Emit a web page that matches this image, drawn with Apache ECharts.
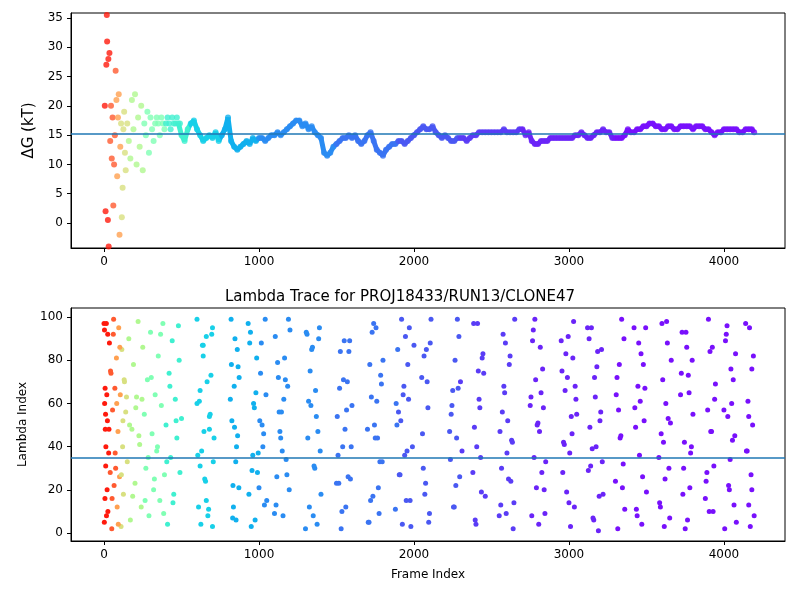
<!DOCTYPE html>
<html><head><meta charset="utf-8">
<script src="https://cdn.jsdelivr.net/npm/echarts@6/dist/echarts.min.js"></script>
<style>body{margin:0}#c{width:800px;height:600px}</style></head>
<body><div id="c"></div>
<script>
// Top panel: free energy estimate per frame
const dgFrames = [5,10,15,18,20,25,28,30,35,40,45,50,55,60,65,70,75,80,85,90,95,100,105,110,115,120,125,130,135,140,150,160,170,180,190,200,210,220,230,240,250,260,270,280,290,300,310,320,330,340,350,360,370,380,390,400,410,420,430,440,450,460,470,480,490,
500,520,540,560,580,600,620,640,660,680,700,720,740,760,780,800,820,840,860,880,900,920,940,960,980,1000,1020,1040,1060,1080,1100,1120,1140,1160,1180,1200,1220,1240,1260,1280,1300,1320,1340,1360,1380,1400,1420,1440,1460,1480,1500,1520,1540,1560,1580,1600,1620,1640,1660,1680,1700,1720,1740,1760,1780,1800,1820,1840,1860,1880,1900,1920,1940,1960,1980,2000,2020,2040,2060,2080,2100,2120,2140,2160,2180,2200,2220,2240,2260,2280,2300,2320,2340,2360,2380,2400,2420,2440,2460,2480,2500,2520,2540,2560,2580,2600,2620,2640,2660,2680,2700,2720,2740,2760,2780,2800,2820,2840,2860,2880,2900,2920,2940,2960,2980,3000,3020,3040,3060,3080,3100,3120,3140,3160,3180,3200,3220,3240,3260,3280,3300,3320,3340,3360,3380,3400,3420,3440,3460,3480,3500,3520,3540,3560,3580,3600,3620,3640,3660,3680,3700,3720,3740,3760,3780,3800,3820,3840,3860,3880,3900,3920,3940,3960,3980,4000,4020,4040,4060,4080,4100,4120,4140,4160,4180,4195];
const dgValues = [20,2,27,35.5,31,0.5,28,-4,29,14,20,11,18,3,10,15,26,21,8,18,22,-2,13,17,1,6,16,19,12,9,17,14,11,21,16,22,10,18,13,20,9,17,15,19,12,18,16,14,17,18,17,15,18,17,16,17,18,17,16,18,17,17,18,17,17,
15,14,16,17,17.5,16,15,14,14.5,15,14.5,15.5,14,15,16,18,14,13,12.5,13,13.5,14,13.5,14.5,14,14.5,14.5,14,14.5,15,15,15.5,15,15.5,16,16.5,17,17.5,17.5,16.5,17,16,16.5,15.5,15,14.5,12,11.5,12,13,13.5,14,14.5,14.5,15,14.5,15,14,13.5,14,15,15.5,14,12.5,12,11.5,12.5,13,13.5,13.5,14,14,13.5,14,14.5,15,15.5,16,16.5,16,16,16.5,15.5,15,14.5,15,14.5,14,14,14.5,14.5,14.5,14,14.5,15,15,15.5,15.5,15.5,15.5,15.5,15.5,15.5,15.5,16,15.5,15.5,15.5,15.5,16,16,15,15.5,14,13.5,13.5,14,14,14,14.5,14.5,14.5,14.5,14.5,14.5,14.5,14.5,15,15,15.5,15,14.5,14.5,15,15.5,15.5,16,15.5,15.5,14.5,14.5,14.5,14.5,15,16,15.5,15.5,16,16,16.5,16.5,17,17,16.5,16.5,16,16,16.5,16.5,16,16,16.5,16.5,16.5,16.5,16,16.5,16.5,16.5,16,16,15.5,15,15.5,15.5,16,16,16,16,16,15.5,15.5,16,16,16,15.5];
const dgRef = 15.2;
const dgTicks = [0,5,10,15,20,25,30,35];
// Bottom panel: lambda index per frame
const lamFrames = [0,2,4,6,8,10,12,15,18,20,22,25,30,35,40,45,50,55,60,65,70,75,80,85,90,95,100,105,110,115,120,125,130,140,150,160,170,180,190,200,210,220,230,240,250,260,270,280,290,300,310,320,330,340,350,360,370,380,390,400,410,420,430,440,450,460,470,480,490,500,
600,610,620,630,640,650,660,670,680,690,700,710,600,620,640,660,680,700,820,830,840,850,860,870,825,835,845,855,865,930,950,970,990,1010,1030,1050,940,960,980,1000,1020,1040,1100,1120,1140,1160,1180,1200,1110,1130,1150,1170,1190,1300,1320,1340,1360,1380,1400,1310,1330,1350,1370,1390,1500,1520,1540,1560,1580,1600,1510,1530,1550,1570,1590,1700,1720,1740,1760,1780,1800,1710,1730,1750,1770,1790,1880,1900,1920,1940,1960,1980,2000,1890,1910,1930,1950,1970,1990,2050,2070,2090,2110,2060,2080,2100,2230,2250,2270,2290,2310,2240,2260,2280,2300,2380,2400,2420,2440,2460,2390,2410,2430,2450,2550,2570,2590,2610,2630,2650,2560,2580,2600,2620,2640,2750,2770,2790,2810,2830,2850,2760,2780,2800,2820,2840,2950,2970,2990,3010,3030,3050,2960,2980,3000,3020,3040,3120,3140,3160,3180,3200,3220,3130,3150,3170,3190,3210,3300,3320,3340,3360,3310,3330,3350,3420,3440,3460,3480,3500,3430,3450,3470,3490,3580,3600,3620,3640,3660,3590,3610,3630,3650,3720,3740,3760,3780,3800,3730,3750,3770,3790,3880,3900,3920,3940,3890,3910,3930,4000,4020,4040,4060,4080,4010,4030,4050,4070,4140,4160,4180,4150,4170,4190,4160,4180];
const lamValues = [97,5,60,16,48,55,40,97,64,20,52,10,37,88,28,74,2,57,92,22,67,30,81,12,47,95,26,64,3,85,40,18,71,56,33,90,6,48,78,23,63,98,41,12,86,55,30,71,8,93,46,20,64,38,82,15,59,97,27,50,4,74,35,89,18,62,44,96,28,53,
99,12,66,38,82,25,91,8,54,73,3,44,60,31,87,15,48,95,99,7,68,33,85,21,52,12,90,40,77,97,3,58,28,74,46,15,88,36,65,21,50,99,9,79,44,62,27,94,13,56,38,71,99,2,61,85,30,47,18,92,75,8,54,95,23,67,40,12,84,59,36,2,89,70,25,48,15,97,61,33,80,5,93,44,21,69,11,56,99,36,78,3,87,50,27,64,15,95,40,72,18,58,99,30,85,9,47,66,22,91,38,55,12,99,70,28,4,62,81,17,49,97,35,74,8,56,88,25,43,99,13,68,37,82,2,59,94,21,47,76,33,8,99,51,65,20,89,41,72,3,98,55,28,83,14,46,68,95,31,6,77,52,18,90,39,63,1,85,24,57,99,11,72,44,32,95,8,61,78,19,49,88,4,67,35,97,25,53,80,12,42,98,7,64,30,86,21,55,93,2,73,40,16,99,47,62,28,84,10,57,96,34,71,5,89,22,60,45,97,13,76,38,3,82,54,20,94,67,31,8,92,48,75,16,99,37,60,4,86,27,52,70];
const lamFrames2 = [3,7,11,16,24,32,42,52,62,72,82,92,102,112,122,132,145,165,185,205,225,245,265,285,305,325,345,365,385,405,425,445,465,485,605,615,625,635,645,655,665,675,685,695,705,815,822,832,842,852,862,872,935,945,955,965,975,985,995,1005,1015,1025,1035,1045,1105,1115,1125,1135,1145,1155,1165,1175,1185,1195,1305,1315,1325,1335,1345,1355,1365,1375,1385,1395,1505,1515,1525,1535,1545,1555,1565,1575,1585,1595,1705,1715,1725,1735,1745,1755,1765,1775,1785,1795,1885,1895,1905,1915,1925,1935,1945,1955,1965,1975,2055,2065,2075,2085,2095,2105,2235,2245,2255,2265,2275,2285,2295,2385,2395,2405,2415,2425,2435,2445,2555,2565,2575,2585,2595,2605,2615,2625,2635,2645,2755,2765,2775,2785,2795,2805,2815,2825,2835,2845,2955,2965,2975,2985,2995,3005,3015,3025,3035,3045,3125,3135,3145,3155,3165,3175,3185,3195,3205,3215,3305,3315,3325,3335,3345,3355,3425,3435,3445,3455,3465,3475,3485,3495,3585,3595,3605,3615,3625,3635,3645,3655,3725,3735,3745,3755,3765,3775,3785,3795,3885,3895,3905,3915,3925,3935,3945,4005,4015,4025,4035,4045,4055,4065,4075,4145,4155,4165,4175,4185,4195];
const lamValues2 = [63,50,17,58,45,62,15,35,72,25,40,92,9,33,68,14,52,80,36,61,4,87,47,24,70,11,55,92,33,62,78,22,49,6,45,72,18,93,29,60,6,81,37,52,88,40,13,64,91,26,72,47,56,8,81,34,68,20,93,44,12,59,86,31,66,4,90,38,54,23,84,10,71,48,57,26,89,40,5,78,63,17,50,95,44,9,73,33,60,85,27,52,4,68,91,38,62,15,46,82,23,70,5,88,34,59,12,80,44,67,26,97,6,40,75,58,19,83,47,30,92,65,9,52,78,24,42,14,63,89,35,71,50,4,86,28,58,9,75,42,66,19,91,37,54,81,12,62,29,49,95,7,72,40,84,17,56,33,64,2,78,45,21,90,58,11,68,36,83,26,52,95,14,46,71,3,60,88,30,51,74,18,42,93,6,65,37,80,24,57,10,47,86,31,69,2,92,54,20,76,43,13,83,38,61,95,27,50,8,73,45,17,88,60,33,2,79,52,92,25,66,11,41,86,58,30,7,63];
const lamRef = 35;
const lamTicks = [0,20,40,60,80,100];
const frameTicks = [0,1000,2000,3000,4000];

const stops = [[0,'#ff1a0d'],[40,'#ff5a30'],[80,'#ffa050'],[110,'#d8e080'],[160,'#b0f890'],[260,'#80ffb4'],[400,'#40f0d0'],[550,'#18d0e8'],[750,'#10b0ee'],[1000,'#2a8cf2'],[1500,'#3a74f2'],[1900,'#4a58f2'],[2300,'#5a3cf6'],[2700,'#6a24f8'],[3300,'#7810fc'],[4400,'#8000ff']];
function colorAt(f){let c=stops[0][1];for(const s of stops){if(f>=s[0])c=s[1];}return c;}
const topData = dgFrames.map((f,i)=>({value:[f,dgValues[i]],itemStyle:{color:colorAt(f)}}));
const lineData = dgFrames.map((f,i)=>[f,dgValues[i]]).filter(d=>d[0]>=480);
const allLamF = lamFrames.concat(lamFrames2), allLamV = lamValues.concat(lamValues2);
const botData = allLamF.map((f,i)=>({value:[f,allLamV[i]],itemStyle:{color:colorAt(f)}}));
const pieces = stops.slice(0,-1).map((s,i)=>({gte:s[0],lt:stops[i+1][0],color:s[1]}));

const font = {color:'#000',fontSize:12,fontFamily:'DejaVu Sans'};
function xAx(g,extra){return Object.assign({type:'value',gridIndex:g,min:-213,max:4394,
  axisLine:{onZero:false,lineStyle:{color:'#000'}},splitLine:{show:false},
  axisTick:{customValues:frameTicks,length:4,lineStyle:{color:'#000'}},
  axisLabel:Object.assign({customValues:frameTicks,formatter:v=>String(v)},font)},extra||{});}
function yAx(g,min,max,ticks,extra){return Object.assign({type:'value',gridIndex:g,min:min,max:max,
  axisLine:{show:true,onZero:false,lineStyle:{color:'#000'}},splitLine:{show:false},
  axisTick:{show:true,customValues:ticks,length:4,lineStyle:{color:'#000'}},
  axisLabel:Object.assign({customValues:ticks,formatter:v=>String(v)},font)},extra||{});}
const chart = echarts.init(document.getElementById('c'));
chart.setOption({
  animation:false,
  title:{text:'Lambda Trace for PROJ18433/RUN13/CLONE47',left:'center',top:285,textStyle:{fontSize:15,fontWeight:'normal',color:'#000',fontFamily:'DejaVu Sans'}},
  visualMap:{type:'piecewise',show:false,dimension:0,seriesIndex:1,pieces:pieces},
  grid:[{left:71,top:13,width:714,height:235,show:true,borderColor:'#000',borderWidth:1,backgroundColor:'transparent'},
        {left:71,top:308,width:714,height:233,show:true,borderColor:'#000',borderWidth:1,backgroundColor:'transparent'}],
  xAxis:[xAx(0),xAx(1,{name:'Frame Index',nameLocation:'middle',nameGap:28,nameTextStyle:font})],
  yAxis:[yAx(0,-4.27,35.85,dgTicks,{name:'ΔG (kT)',nameLocation:'middle',nameGap:34,nameTextStyle:Object.assign({},font,{fontSize:15})}),
         yAx(1,-3.7,104.2,lamTicks,{name:'Lambda Index',nameLocation:'middle',nameGap:34,nameTextStyle:font})],
  series:[
    {type:'scatter',xAxisIndex:0,yAxisIndex:0,symbolSize:6,data:topData,
     markLine:{silent:true,symbol:'none',label:{show:false},lineStyle:{color:'#1f77b4',width:1.5,type:'solid'},data:[{yAxis:dgRef}]}},
    {type:'line',xAxisIndex:0,yAxisIndex:0,showSymbol:false,lineStyle:{width:5},data:lineData,z:1},
    {type:'scatter',xAxisIndex:1,yAxisIndex:1,symbolSize:5,data:botData,itemStyle:{opacity:1},
     markLine:{silent:true,symbol:'none',label:{show:false},lineStyle:{color:'#1f77b4',width:1.5,type:'solid'},data:[{yAxis:lamRef}]}}
  ]
});
</script></body></html>
